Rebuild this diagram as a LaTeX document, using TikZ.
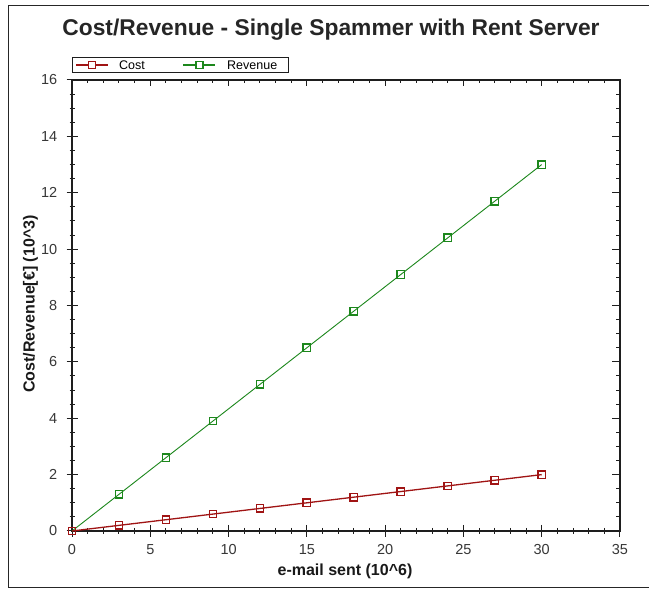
\documentclass[tikz,border=0pt]{standalone}
\usepackage{fontspec}
\setmainfont{Liberation Sans}
\usetikzlibrary{plotmarks}
\definecolor{costred}{RGB}{160,20,20}
\definecolor{revgreen}{RGB}{28,135,28}
\definecolor{axisdark}{RGB}{30,30,30}
\definecolor{ticktext}{RGB}{55,55,55}
\begin{document}
\begin{tikzpicture}[x=1pt,y=-1pt,
  framebox/.style={draw=axisdark, line width=1.1pt},
  tickline/.style={draw=axisdark, line width=1pt},
  ticklabel/.style={text=ticktext, font=\fontsize{14.5}{16}\selectfont, inner sep=0pt},
  axislabel/.style={text=black!90, font=\fontsize{16}{18}\selectfont\bfseries, inner sep=0pt},
  costline/.style={draw=costred, line width=1.3pt, mark=square, mark size=3.7pt,
    mark options={draw=costred, fill=white, line width=1.35pt, solid}},
  revline/.style={draw=revgreen, line width=0.9pt, mark=square, mark size=3.7pt,
    mark options={draw=revgreen, fill=white, line width=1.35pt, solid}},
  costsq/.style={draw=costred, fill=white, line width=1.3pt, minimum size=7pt, inner sep=0pt},
  revsq/.style={draw=revgreen, fill=white, line width=1.3pt, minimum size=7pt, inner sep=0pt},
  legendtext/.style={font=\fontsize{12.5}{14}\selectfont, inner sep=0pt, anchor=west}]
\useasboundingbox (0,0) rectangle (649,593);
\fill[white] (0,0) rectangle (649,593);
% outer panel edge
\draw[line width=1.6pt, black!85] (649,5.5) -- (8.5,5.5) -- (8.5,587.5) -- (649,587.5);

% title
\node[font=\fontsize{22.8}{26}\selectfont\bfseries, text=black!85, inner sep=0pt] (title) at (331,30) {Cost/Revenue - Single Spammer with Rent Server};

% legend
\draw[draw=axisdark, line width=1pt, fill=white] (72.5,57.5) rectangle (288,73);
\coordinate (lc1) at (76,65); \coordinate (lc2) at (108,65);
\draw[draw=costred, line width=1.4pt] (lc1) -- (lc2);
\node[costsq] (legcostmark) at (92,65) {};
\node[legendtext] (legcost) at (119,65.5) {Cost};
\coordinate (lr1) at (183,65); \coordinate (lr2) at (215,65);
\draw[draw=revgreen, line width=1.2pt] (lr1) -- (lr2);
\node[revsq] (legrevmark) at (199.5,65) {};
\node[legendtext] (legrev) at (227,65.5) {Revenue};

% axis labels
\node[axislabel] (xlabel) at (345,571) {e-mail sent (10\^{}6)};
\node[axislabel, rotate=90] (ylabel) at (30.5,304) {Cost/Revenue[€] (10\^{}3)};

% plot area in data units
\begin{scope}[shift={(72,531)}, x=15.657pt, y=28.1875pt]
  % minor and major ticks, bottom and top
  \foreach \x in {0,...,35} {
    \draw[tickline] (\x,0) ++(0pt,3pt) -- ++(0pt,-6pt);
    \draw[tickline] (\x,16) -- ++(0pt,-3pt);
  }
  \foreach \x in {0,5,...,35} {
    \draw[tickline] (\x,0) ++(0pt,6pt) -- ++(0pt,-12pt);
    \draw[tickline] (\x,16) -- ++(0pt,-6pt);
    \node[ticklabel] (xt\x) at (\x,0) [yshift=-19pt] {\x};
  }
  % minor and major ticks, left and right
  \foreach \y in {0,0.5,...,16} {
    \draw[tickline] (0,\y) ++(-2.5pt,0pt) -- ++(5pt,0pt);
    \draw[tickline] (35,\y) -- ++(-4pt,0pt);
  }
  \foreach \y in {0,2,...,16} {
    \draw[tickline] (0,\y) ++(-5.5pt,0pt) -- ++(11.5pt,0pt);
    \draw[tickline] (35,\y) -- ++(-7.5pt,0pt);
    \node[ticklabel, anchor=east] (yt\y) at (0,\y) [xshift=-14.5pt] {\y};
  }
  % plot frame
  \draw[framebox] (0,0) rectangle (35,16);

  % data series
  \draw[revline] plot coordinates {(0,0) (3,1.3) (6,2.6) (9,3.9) (12,5.2) (15,6.5)
    (18,7.8) (21,9.1) (24,10.4) (27,11.7) (30,13.0)};
  \draw[costline] plot coordinates {(0,0) (3,0.2) (6,0.4) (9,0.6) (12,0.8) (15,1.0)
    (18,1.2) (21,1.4) (24,1.6) (27,1.8) (30,2.0)};
\end{scope}
\end{tikzpicture}
\end{document}
